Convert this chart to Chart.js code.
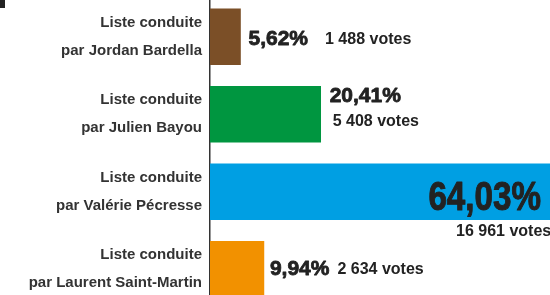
<!DOCTYPE html>
<html>
<head>
<meta charset="utf-8">
<script src="https://cdn.jsdelivr.net/npm/chart.js@4/dist/chart.umd.min.js"></script>
<style>
  html, body { margin: 0; padding: 0; background: #fff; overflow: hidden; }
  #wrap { position: relative; width: 550px; height: 295px; overflow: hidden; }
  #chart { position: absolute; left: 0; top: -2px; }
</style>
</head>
<body>
<div id="wrap"><canvas id="chart" width="550" height="310"></canvas></div>
<script>
// --- données ---
const candidates = ['Jordan Bardella', 'Julien Bayou', 'Valérie Pécresse', 'Laurent Saint-Martin'];
const shares = [5.62, 20.41, 64.03, 9.94];
const votes = [1488, 5408, 16961, 2634];
const barColors = ['#7b4f27', '#009640', '#009fe3', '#f29100'];

// placement des étiquettes pour chaque barre
const labelModes = ['inline', 'stacked', 'inside', 'inline'];

const fmtPct = v => v.toFixed(2).replace('.', ',') + '%';
const fmtVotes = v => String(v).replace(/\B(?=(\d{3})+(?!\d))/g, ' ') + ' votes';

const SANS = '"Liberation Sans", Arial, sans-serif';

// texte un peu plus gras que le bold normal
function heavyText(ctx, txt, x, y, w) {
    ctx.lineWidth = w;
    ctx.lineJoin = 'round';
    ctx.strokeText(txt, x, y);
    ctx.fillText(txt, x, y);
}

const valueLabels = {
    id: 'valueLabels',
    afterDatasetsDraw(chart) {
        const ctx = chart.ctx;
        const area = chart.chartArea;
        const bars = chart.getDatasetMeta(0).data;
        ctx.save();
        ctx.fillStyle = '#222';
        ctx.strokeStyle = '#222';
        ctx.textBaseline = 'alphabetic';
        // bout de titre coupé en haut à gauche
        ctx.fillRect(0, 2, 5, 8);

        bars.forEach((bar, i) => {
            const pct = fmtPct(shares[i]);
            const vt = fmtVotes(votes[i]);
            const top = bar.y - bar.height / 2;
            const bottom = bar.y + bar.height / 2;
            const mode = labelModes[i];

            if (mode === 'inline') {
                ctx.font = 'bold 21px ' + SANS;
                ctx.textAlign = 'left';
                const x0 = bar.x + (i === 0 ? 8 : 6);
                const base = bar.y + (i === 0 ? 8 : 6);
                heavyText(ctx, pct, x0, base, 0.8);
                const w = ctx.measureText(pct).width;
                ctx.font = 'bold 16px ' + SANS;
                ctx.fillText(vt, x0 + w + (i === 0 ? 17 : 8), base - 1);
            } else if (mode === 'stacked') {
                ctx.font = 'bold 21px ' + SANS;
                ctx.textAlign = 'left';
                heavyText(ctx, pct, bar.x + 9, top + 16, 0.8);
                ctx.font = 'bold 16px ' + SANS;
                ctx.fillText(vt, bar.x + 12, bottom - 16);
            } else {
                // gros chiffre condensé, aligné à droite dans la barre
                ctx.save();
                ctx.font = 'bold 40px ' + SANS;
                ctx.textAlign = 'right';
                ctx.translate(area.right - 9, bar.y + 18);
                ctx.scale(0.83, 1);
                heavyText(ctx, pct, 0, 0, 1);
                ctx.restore();
                ctx.font = 'bold 16px ' + SANS;
                ctx.textAlign = 'left';
                ctx.fillText(vt, 456, bottom + 16);
            }
        });
        ctx.restore();
    }
};

new Chart(document.getElementById('chart'), {
    type: 'bar',
    data: {
        labels: candidates.map(c => ['Liste conduite', 'par ' + c]),
        datasets: [{ data: shares, backgroundColor: barColors, borderWidth: 0, barThickness: 56 }]
    },
    options: {
        indexAxis: 'y',
        responsive: false,
        animation: false,
        layout: { padding: 0 },
        scales: {
            x: { display: false, min: 0, max: 62.7 },
            y: {
                grid: { display: false, drawTicks: false },
                border: { color: '#333', width: 1.5 },
                ticks: {
                    color: '#333',
                    padding: 8,
                    font: { family: SANS, size: 15, weight: 'bold', lineHeight: '28px' }
                },
                afterFit: s => { s.width = 210; s.paddingTop = 0; s.paddingBottom = 0; }
            }
        },
        plugins: { legend: { display: false }, tooltip: { enabled: false } }
    },
    plugins: [valueLabels]
});
</script>
</body>
</html>
